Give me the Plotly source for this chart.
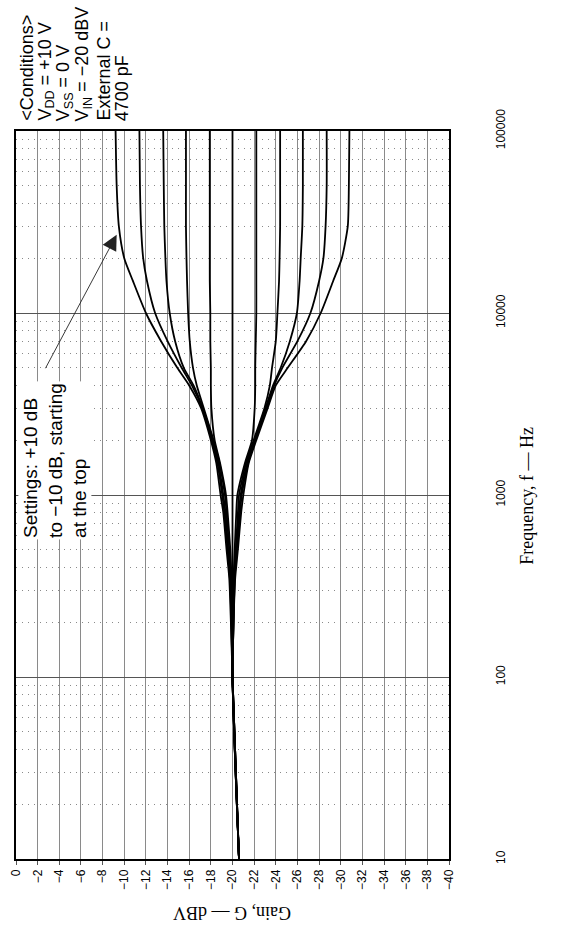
import math
import plotly.graph_objects as go

# ---- data ----
freq_hz = [10, 100, 200, 350, 500, 800, 1000, 1500, 2000, 3000, 4000, 5000,
           7000, 10000, 15000, 20000, 30000, 50000, 100000]

gain_p10 = [-20.6, -20.0, -19.85, -19.7, -19.45, -19.15, -18.9, -18.5, -18.0, -17.1, -16.0, -14.9,
            -13.4, -12.0, -10.8, -10.0, -9.5, -9.3, -9.2]
gain_p8 = [-20.6, -20.0, -19.9, -19.75, -19.55, -19.25, -19.05, -18.6, -18.1, -17.2, -16.25, -15.3,
           -14.0, -12.85, -12.1, -11.75, -11.55, -11.45, -11.4]
gain_p6 = [-20.6, -20.0, -19.9, -19.8, -19.6, -19.35, -19.15, -18.7, -18.2, -17.25, -16.4, -15.5,
           -14.7, -14.2, -13.9, -13.8, -13.7, -13.65, -13.6]
gain_p4 = [-20.6, -20.0, -19.95, -19.85, -19.7, -19.45, -19.3, -18.8, -18.25, -17.35, -16.7, -16.35,
           -16.05, -15.9, -15.8, -15.75, -15.7, -15.7, -15.7]
gain_p2 = [-20.6, -20.0, -19.95, -19.9, -19.8, -19.55, -19.4, -18.85, -18.35, -18.05, -18.0, -18.0,
           -17.95, -17.95, -17.9, -17.9, -17.9, -17.9, -17.9]
gain_0 = [-20.6, -20.0, -20.0, -20.0, -20.0, -20.0, -20.0, -20.0, -20.0, -20.0, -20.0, -20.0,
          -20.0, -20.0, -20.0, -20.0, -20.0, -20.0, -20.0]
gain_m2 = [-20.6, -20.0, -20.05, -20.1, -20.2, -20.35, -20.45, -21.15, -21.8, -22.05, -22.1, -22.1,
           -22.15, -22.2, -22.2, -22.2, -22.2, -22.2, -22.2]
gain_m4 = [-20.6, -20.0, -20.05, -20.15, -20.3, -20.5, -20.6, -21.25, -21.95, -22.95, -23.45, -23.65,
           -24.0, -24.15, -24.3, -24.35, -24.4, -24.4, -24.4]
gain_m6 = [-20.6, -20.0, -20.1, -20.2, -20.35, -20.6, -20.75, -21.35, -22.05, -23.05, -23.75, -24.45,
           -25.3, -25.95, -26.2, -26.3, -26.45, -26.5, -26.5]
gain_m8 = [-20.6, -20.0, -20.1, -20.2, -20.4, -20.7, -20.85, -21.45, -22.1, -23.15, -23.85, -24.6,
           -26.0, -27.2, -28.0, -28.4, -28.6, -28.7, -28.7]
gain_m10 = [-20.6, -20.0, -20.1, -20.25, -20.5, -20.8, -21.0, -21.5, -22.2, -23.25, -24.0, -25.1,
            -26.8, -28.15, -29.3, -30.1, -30.65, -30.75, -30.8]

series = [gain_p10, gain_p8, gain_p6, gain_p4, gain_p2, gain_0,
          gain_m2, gain_m4, gain_m6, gain_m8, gain_m10]

gain_ticks = list(range(0, -41, -2))
gain_ticktext = ["0" if v == 0 else "\u2212" + str(-v) for v in gain_ticks]
freq_ticks = [10, 100, 1000, 10000, 100000]
freq_ticktext = ["10", "100", "1000", "10000", "100000"]
freq_minor = [m * 10 ** k for k in range(1, 5) for m in range(2, 10)]

conditions = ["&lt;Conditions&gt;", "V<sub>DD</sub> = +10 V", "V<sub>SS</sub> = 0 V",
              "V<sub>IN</sub> = \u221220 dBV", "External C =", "4700 pF"]
settings_text = "Settings: +10 dB<br>to \u221210 dB, starting<br>at the top"

# ---- figure ----
fig = go.Figure()
for s in series:
    fig.add_trace(go.Scatter(x=s, y=freq_hz, mode="lines",
                             line=dict(color="black", width=1.8, shape="spline", smoothing=0.6),
                             showlegend=False, hoverinfo="skip"))

W, H = 576, 934
L, T = 9, 131
pw, ph = 440, 728
R, B = W - L - pw, H - T - ph

def px_x(px):
    return (px - L) / pw

def px_y(py):
    return (T + ph - py) / ph

fig.update_layout(
    width=W, height=H,
    margin=dict(l=L, r=R, t=T, b=B),
    paper_bgcolor="white", plot_bgcolor="white",
    font=dict(family="Liberation Sans, Arial, sans-serif", color="black"),
    xaxis=dict(range=[0, -40], tickvals=gain_ticks, ticktext=gain_ticktext,
               tickangle=-90, tickfont=dict(size=12, family="Liberation Sans Narrow, Arial Narrow, Liberation Sans"),
               showgrid=True, gridcolor="#8a8a8a", gridwidth=1,
               showline=True, linecolor="black", linewidth=1.5, mirror=True,
               ticks="outside", ticklen=4, tickcolor="#555", zeroline=False),
    yaxis=dict(type="log", range=[1, 5], side="right", tickvals=freq_ticks, ticktext=freq_ticktext,
               tickangle=-90, tickfont=dict(size=12, family="Liberation Sans Narrow, Arial Narrow, Liberation Sans"),
               ticklabelstandoff=40,
               showgrid=True, gridcolor="#555", gridwidth=1,
               minor=dict(tickvals=freq_minor, showgrid=True, gridcolor="#8a8a8a",
                          griddash="1px,5px", gridwidth=1, ticks=""),
               showline=True, linecolor="black", linewidth=1.5, mirror=True,
               ticks="", zeroline=False),
)

ann = []
cond_x = [20, 39, 58, 78, 98, 117]
for txt, cx in zip(conditions, cond_x):
    ann.append(dict(text=txt, xref="paper", yref="paper", x=px_x(cx), y=px_y(123),
                    xanchor="center", yanchor="bottom", textangle=-90, showarrow=False,
                    font=dict(size=18, family="Liberation Sans, Arial")))

ann.append(dict(text=settings_text, xref="paper", yref="paper", x=px_x(48), y=px_y(540),
                xanchor="center", yanchor="bottom", textangle=-90, showarrow=False, align="left",
                bgcolor="white", borderpad=1,
                font=dict(size=19, family="Liberation Sans, Arial")))

tip_gain = -9.3
tip_logf = 4.43
ann.append(dict(text="", x=tip_gain, y=tip_logf, xref="x", yref="y",
                showarrow=True, arrowhead=2, arrowsize=3.4, arrowwidth=0.9, arrowcolor="#222",
                ax=-72, ay=135, standoff=0))

ann.append(dict(text="Frequency, f \u2014 Hz", xref="paper", yref="paper", x=px_x(528), y=px_y(496),
                xanchor="center", yanchor="middle", textangle=-90, showarrow=False,
                font=dict(size=18, family="Liberation Serif, Times New Roman, serif")))
ann.append(dict(text="Gain, G \u2014 dBV", xref="paper", yref="paper", x=px_x(229), y=px_y(913),
                xanchor="center", yanchor="middle", textangle=180, showarrow=False,
                font=dict(size=18, family="Liberation Serif, Times New Roman, serif")))
fig.update_layout(annotations=ann)

fig.write_html("out.html",
               config={"displayModeBar": False},
               post_script="document.body.style.margin='0';document.body.style.padding='0';")
